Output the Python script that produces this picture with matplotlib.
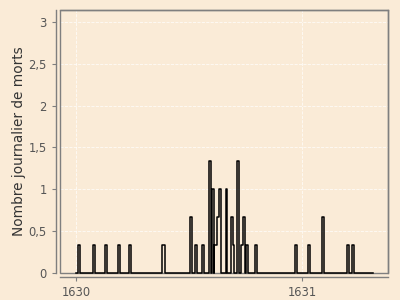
import numpy as np
import matplotlib
matplotlib.use("Agg")
import matplotlib.pyplot as plt
import matplotlib.dates as mdates
from matplotlib.patches import Rectangle
from matplotlib.ticker import FuncFormatter


# dates where the daily value changes, and the value held from that date on
change_dates = [
    "1630-01-01", "1630-01-04", "1630-01-07", "1630-01-29", "1630-02-01",
    "1630-02-16", "1630-02-19", "1630-03-10", "1630-03-13", "1630-03-28",
    "1630-03-31", "1630-05-20", "1630-05-24", "1630-07-04", "1630-07-07",
    "1630-07-12", "1630-07-15", "1630-07-23", "1630-07-26", "1630-08-04",
    "1630-08-07", "1630-08-08", "1630-08-11", "1630-08-12", "1630-08-17",
    "1630-08-19", "1630-08-22", "1630-08-30", "1630-09-02", "1630-09-08",
    "1630-09-11", "1630-09-13", "1630-09-17", "1630-09-20", "1630-09-24",
    "1630-09-27", "1630-09-30", "1630-10-02", "1630-10-06", "1630-10-17",
    "1630-10-20", "1630-12-20", "1630-12-23", "1631-01-10", "1631-01-13",
    "1631-02-02", "1631-02-05", "1631-03-14", "1631-03-17", "1631-03-22",
    "1631-03-25", "1631-04-25",
]
levels = [
    0, 1/3, 0, 1/3, 0,
    1/3, 0, 1/3, 0, 1/3,
    0, 1/3, 0, 2/3, 0,
    1/3, 0, 1/3, 0, 4/3,
    0, 1, 0, 1/3, 2/3,
    1, 0, 1, 0, 2/3,
    1/3, 0, 4/3, 0, 1/3,
    2/3, 0, 1/3, 0, 1/3,
    0, 1/3, 0, 1/3, 0,
    2/3, 0, 1/3, 0, 1/3,
    0, 0,
]
y_ticks = [0, 0.5, 1, 1.5, 2, 2.5, 3]

BG = "#FAEBD7"
EDGE = "#7f7f7f"

dates = np.array(change_dates, dtype="datetime64[D]")

fig = plt.figure(figsize=(4, 3), dpi=100, facecolor=BG)
ax = fig.add_axes([0.15, 0.089, 0.82, 0.878])
ax.set_facecolor(BG)

ax.grid(True, color="white", linestyle="--", linewidth=0.6, alpha=0.8)
ax.set_axisbelow(True)

ax.step(dates, levels, where="post", color="black", linewidth=1.1, clip_on=False)

ax.set_xlim(np.datetime64("1629-12-06"), np.datetime64("1631-05-19"))
ax.set_ylim(0, 3.14)

ax.xaxis.set_major_locator(mdates.YearLocator())
ax.xaxis.set_major_formatter(mdates.DateFormatter("%Y"))
ax.set_yticks(y_ticks)
ax.yaxis.set_major_formatter(
    FuncFormatter(lambda v, _: f"{v:g}".replace(".", ","))
)

# axis lines sit just outside the panel border
for side in ["left", "bottom"]:
    ax.spines[side].set_position(("outward", 3))
for side in ["left", "bottom", "top", "right"]:
    ax.spines[side].set_color(EDGE)
    ax.spines[side].set_linewidth(1.0)
ax.add_patch(Rectangle((0, 0), 1, 1, transform=ax.transAxes, fill=False,
                       edgecolor=EDGE, linewidth=1.0, clip_on=False))

ax.tick_params(colors=EDGE, labelcolor="#555555", labelsize=8.3, length=3, width=0.8)
ax.set_ylabel("Nombre journalier de morts", fontsize=9.8, color="#333333", labelpad=1.5)

fig.savefig("out.png", dpi=100, facecolor=BG)
